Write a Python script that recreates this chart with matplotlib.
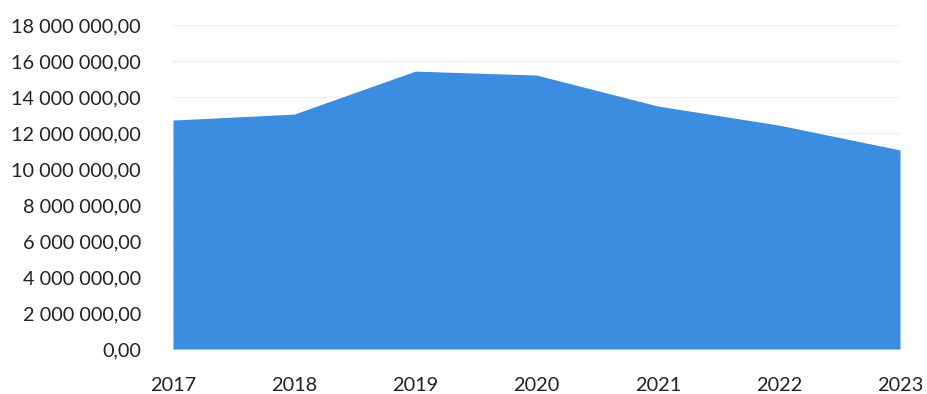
import matplotlib.pyplot as plt
from matplotlib.ticker import FuncFormatter

years = [2017, 2018, 2019, 2020, 2021, 2022, 2023]
values = [12720000, 13050000, 15440000, 15220000, 13500000, 12440000, 11060000]

plt.rcParams['font.family'] = ['Lato', 'DejaVu Sans']

fig = plt.figure(figsize=(9.27, 3.94), dpi=100)
ax = fig.add_axes([0.1866, 0.1142, 0.7843, 0.8223])

ax.fill_between(years, values, 0, color='#3a8de1', linewidth=0)

ax.set_xlim(2017, 2023)
ax.set_ylim(0, 18000000)
ax.set_yticks(range(0, 18000001, 2000000))
ax.set_xticks(years)


def fmt(v, pos):
    s = f'{v:,.2f}'.replace(',', ' ').replace('.', ',')
    return s


ax.yaxis.set_major_formatter(FuncFormatter(fmt))
ax.grid(axis='y', color='#f0f0f0', linewidth=1)
ax.set_axisbelow(True)
for s in ax.spines.values():
    s.set_visible(False)
ax.tick_params(length=0, labelsize=14.3, colors='#222222')
ax.tick_params(axis='y', pad=23)
ax.tick_params(axis='x', pad=20)

plt.savefig('out.png', dpi=100)
